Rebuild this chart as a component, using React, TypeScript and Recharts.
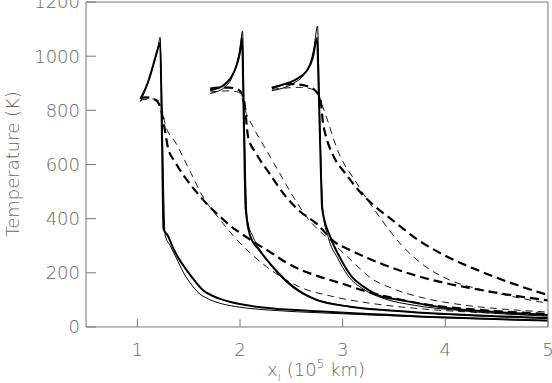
import { LineChart, Line, XAxis, YAxis } from "recharts"

// [x (10^5 km), T (K)]
const solidThick1 = [
  [1.03, 843], [1.06, 865], [1.1, 900], [1.13, 935], [1.16, 975], [1.19, 1015], [1.21, 1040], [1.222, 1050],
  [1.24, 700], [1.255, 362], [1.3, 335], [1.35, 290], [1.4, 255], [1.48, 210], [1.56, 170], [1.64, 136],
  [1.75, 112], [1.9, 93], [2.1, 78], [2.3, 69], [2.8, 57], [3.3, 47], [3.8, 38], [4.4, 30], [5.0, 24],
]
const solidThin1 = [
  [1.03, 832], [1.08, 878], [1.13, 932], [1.17, 985], [1.2, 1030], [1.222, 1070], [1.235, 900], [1.255, 520],
  [1.27, 340], [1.32, 300], [1.38, 255], [1.45, 200], [1.52, 160], [1.6, 125], [1.7, 102], [1.82, 86],
  [2.0, 73], [2.3, 62], [2.8, 52], [3.3, 44], [4.0, 34], [5.0, 23],
]
const dashThick1 = [
  [1.03, 846], [1.08, 848], [1.13, 846], [1.17, 840], [1.2, 830], [1.23, 805], [1.26, 745], [1.3, 660],
  [1.37, 608], [1.45, 560], [1.53, 520], [1.61, 483], [1.69, 449], [1.8, 410], [1.9, 375], [2.0, 348],
  [2.16, 308], [2.3, 275], [2.45, 238], [2.6, 210], [2.78, 185], [2.97, 163], [3.2, 135], [3.43, 112],
  [3.85, 81], [4.34, 63], [5.0, 48],
]
const dashThin1 = [
  [1.03, 838], [1.15, 842], [1.21, 835], [1.25, 790], [1.27, 750], [1.38, 676], [1.51, 578], [1.64, 480],
  [1.81, 394], [1.97, 322], [2.26, 222], [2.58, 148], [2.91, 112], [3.3, 86], [3.8, 66], [4.4, 52], [5.0, 43],
]

const solidThick2 = [
  [1.71, 875], [1.75, 878], [1.8, 884], [1.85, 895], [1.9, 915], [1.94, 940], [1.97, 970], [2.0, 1015],
  [2.02, 1068], [2.035, 800], [2.055, 438], [2.1, 335], [2.19, 283], [2.32, 222], [2.52, 148], [2.75, 99],
  [3.07, 75], [3.5, 60], [4.0, 48], [4.5, 40], [5.0, 33],
]
const solidThin2 = [
  [1.71, 862], [1.78, 870], [1.85, 885], [1.92, 920], [1.97, 975], [2.0, 1030], [2.025, 1093], [2.04, 800],
  [2.07, 400], [2.13, 330], [2.22, 270], [2.35, 205], [2.5, 150], [2.7, 108], [3.0, 80], [3.5, 60],
  [4.0, 47], [4.5, 38], [5.0, 31],
]
const dashThick2 = [
  [1.71, 880], [1.8, 884], [1.9, 884], [1.97, 878], [2.0, 872], [2.04, 835], [2.08, 700], [2.16, 639],
  [2.29, 565], [2.45, 480], [2.56, 435], [2.75, 380], [2.92, 314], [3.08, 283], [3.4, 230], [3.72, 189],
  [4.0, 162], [4.27, 142], [4.6, 120], [5.0, 98],
]
const dashThin2 = [
  [1.71, 868], [1.9, 872], [2.0, 865], [2.05, 800], [2.13, 737], [2.26, 651], [2.39, 565], [2.52, 480],
  [2.65, 406], [2.91, 308], [3.1, 240], [3.27, 182], [3.5, 140], [3.8, 106], [4.2, 80], [4.6, 65], [5.0, 55],
]

const solidThick3 = [
  [2.31, 883], [2.4, 893], [2.52, 909], [2.6, 928], [2.65, 946], [2.71, 995], [2.75, 1068], [2.765, 900],
  [2.79, 541], [2.8, 437], [2.88, 332], [2.97, 259], [3.09, 185], [3.2, 150], [3.36, 115], [3.56, 100],
  [4.01, 70], [4.5, 55], [5.0, 44],
]
const solidThin3 = [
  [2.31, 873], [2.4, 880], [2.52, 900], [2.62, 930], [2.68, 970], [2.72, 1030], [2.755, 1111], [2.775, 800],
  [2.81, 420], [2.86, 330], [2.95, 255], [3.05, 190], [3.2, 140], [3.4, 105], [3.7, 80], [4.1, 62],
  [4.5, 50], [5.0, 40],
]
const dashThick3 = [
  [2.31, 883], [2.5, 897], [2.65, 890], [2.74, 870], [2.78, 847], [2.81, 750], [2.84, 700], [2.9, 639],
  [3.03, 565], [3.19, 490], [3.3, 450], [3.5, 390], [3.72, 325], [3.99, 265], [4.25, 220], [4.5, 182],
  [4.75, 148], [5.0, 118],
]
const dashThin3 = [
  [2.31, 878], [2.6, 885], [2.75, 870], [2.8, 820], [2.86, 755], [2.94, 663], [3.14, 529], [3.36, 406],
  [3.56, 308], [3.8, 225], [4.05, 172], [4.35, 138], [4.66, 112], [5.0, 87],
]

const xTicks = [1, 2, 3, 4, 5]
const yTicks = [0, 200, 400, 600, 800, 1000, 1200]
const xMinor = Array.from({ length: 46 }, (_, i) => Math.round((0.5 + i * 0.1) * 10) / 10)
const yMinor = Array.from({ length: 25 }, (_, i) => i * 50)

const toRows = (a: number[][]) => a.map(([x, t]) => ({ x, t }))

const series = [
  { data: solidThick1, w: 2, dash: undefined },
  { data: solidThin1, w: 1, dash: undefined },
  { data: dashThick1, w: 2.2, dash: "9 5" },
  { data: dashThin1, w: 0.9, dash: "7 5" },
  { data: solidThick2, w: 2, dash: undefined },
  { data: solidThin2, w: 1, dash: undefined },
  { data: dashThick2, w: 2.2, dash: "9 5" },
  { data: dashThin2, w: 0.9, dash: "7 5" },
  { data: solidThick3, w: 2, dash: undefined },
  { data: solidThin3, w: 1, dash: undefined },
  { data: dashThick3, w: 2.2, dash: "9 5" },
  { data: dashThin3, w: 0.9, dash: "7 5" },
]

const font = { fontFamily: "DejaVu Sans", fontSize: 18, fontWeight: 200 }
const textGray = "#666"
const axisGray = "#777"
const tiny = 0.01

function XTitle() {
  return (
    <text x={316} y={376} textAnchor="middle" {...font} fill={textGray}>
      x<tspan fontSize={12} dy={5}>i</tspan>
      <tspan dy={-5}> (10</tspan>
      <tspan fontSize={12} dy={-8}>5</tspan>
      <tspan dy={8}> km)</tspan>
    </text>
  )
}

function YTitle() {
  return (
    <text x={12} y={164} transform="rotate(-90 12 164)" textAnchor="middle" dominantBaseline="central"
      {...font} fill={textGray}>
      Temperature (K)
    </text>
  )
}

export default function App() {
  return (
    <div style={{ position: "absolute", left: 0, top: 0, background: "#fff" }}>
      <LineChart width={552} height={383} margin={{ top: 2, right: 4, bottom: 56, left: 86 }}>
        <XAxis xAxisId="x" type="number" dataKey="x" domain={[0.5, 5]} allowDataOverflow ticks={xTicks}
          interval={0} height={tiny} tickSize={-8} tickMargin={24} stroke={axisGray}
          tick={{ ...font, fill: textGray }} label={<XTitle />}
        />
        <XAxis xAxisId="xm" type="number" domain={[0.5, 5]} allowDataOverflow ticks={xMinor} interval={0}
          height={tiny} tickSize={-4} tick={false} axisLine={false} stroke={axisGray} />
        <XAxis xAxisId="xt" orientation="top" type="number" domain={[0.5, 5]} allowDataOverflow ticks={xTicks}
          interval={0} height={tiny} tickSize={-8} tick={false} stroke={axisGray} />
        <XAxis xAxisId="xtm" orientation="top" type="number" domain={[0.5, 5]} allowDataOverflow ticks={xMinor}
          interval={0} height={tiny} tickSize={-4} tick={false} axisLine={false} stroke={axisGray} />

        <YAxis yAxisId="y" type="number" domain={[0, 1200]} allowDataOverflow ticks={yTicks} interval={0}
          width={tiny} tickSize={-10} tickMargin={16} stroke={axisGray} tick={{ ...font, fill: textGray }}
          label={<YTitle />}
        />
        <YAxis yAxisId="ym" type="number" domain={[0, 1200]} allowDataOverflow ticks={yMinor} interval={0}
          width={tiny} tickSize={-5} tick={false} axisLine={false} stroke={axisGray} />
        <YAxis yAxisId="yr" orientation="right" type="number" domain={[0, 1200]} allowDataOverflow ticks={yTicks}
          interval={0} width={tiny} tickSize={-10} tick={false} stroke={axisGray} />
        <YAxis yAxisId="yrm" orientation="right" type="number" domain={[0, 1200]} allowDataOverflow ticks={yMinor}
          interval={0} width={tiny} tickSize={-5} tick={false} axisLine={false} stroke={axisGray} />

        {series.map((s, i) => (
          <Line
            key={i}
            xAxisId="x"
            yAxisId="y"
            data={toRows(s.data)}
            dataKey="t"
            type="monotone"
            stroke="#000"
            strokeWidth={s.w}
            strokeDasharray={s.dash}
            dot={false}
            activeDot={false}
            isAnimationActive={false}
          />
        ))}
      </LineChart>
    </div>
  )
}
